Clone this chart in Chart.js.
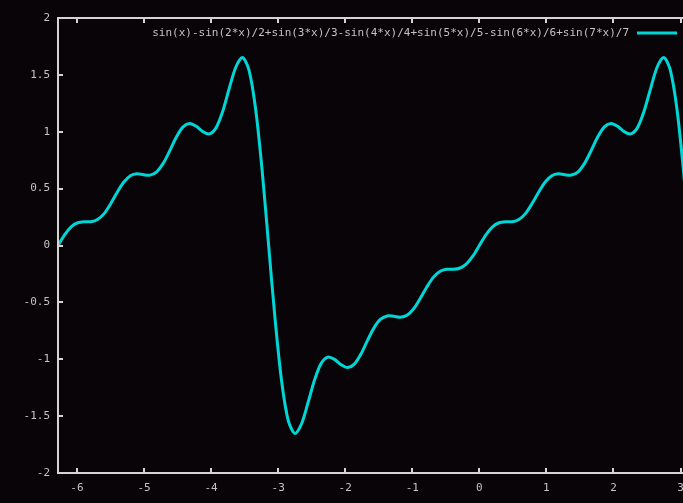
<!DOCTYPE html>
<html>
<head>
<meta charset="utf-8">
<script src="https://cdn.jsdelivr.net/npm/chart.js@4/dist/chart.umd.min.js"></script>
<style>
  html, body { margin: 0; padding: 0; background: #080407; overflow: hidden; }
  #wrap { width: 700px; height: 503px; }
</style>
</head>
<body>
<div id="wrap"><canvas id="plot" width="700" height="503"></canvas></div>
<script>
const seriesLabel = 'sin(x)-sin(2*x)/2+sin(3*x)/3-sin(4*x)/4+sin(5*x)/5-sin(6*x)/6+sin(7*x)/7';

const xValues = [
  -6.283, -6.185, -6.087, -5.989, -5.890, -5.792, -5.694, -5.596, -5.498, -5.400,
  -5.301, -5.203, -5.105, -5.007, -4.909, -4.811, -4.712, -4.614, -4.516, -4.418,
  -4.320, -4.221, -4.123, -4.025, -3.927, -3.829, -3.731, -3.632, -3.534, -3.436,
  -3.338, -3.240, -3.142, -3.043, -2.945, -2.847, -2.749, -2.651, -2.553, -2.454,
  -2.356, -2.258, -2.160, -2.062, -1.963, -1.865, -1.767, -1.669, -1.571, -1.473,
  -1.374, -1.276, -1.178, -1.080, -0.982, -0.884, -0.785, -0.687, -0.589, -0.491,
  -0.393, -0.295, -0.196, -0.098, 0.000, 0.098, 0.196, 0.295, 0.393, 0.491,
  0.589, 0.687, 0.785, 0.884, 0.982, 1.080, 1.178, 1.276, 1.374, 1.473,
  1.571, 1.669, 1.767, 1.865, 1.963, 2.062, 2.160, 2.258, 2.356, 2.454,
  2.553, 2.651, 2.749, 2.847, 2.945, 3.043, 3.142
];

const yValues = [
  0.000, 0.094, 0.164, 0.200, 0.209, 0.209, 0.228, 0.280, 0.367, 0.468,
  0.558, 0.614, 0.630, 0.622, 0.619, 0.648, 0.724, 0.836, 0.956, 1.043,
  1.073, 1.048, 1.001, 0.981, 1.034, 1.176, 1.378, 1.567, 1.652, 1.545,
  1.209, 0.666, 0.000, -0.666, -1.209, -1.545, -1.652, -1.567, -1.378, -1.176,
  -1.034, -0.981, -1.001, -1.048, -1.073, -1.043, -0.956, -0.836, -0.724, -0.648,
  -0.619, -0.622, -0.630, -0.614, -0.558, -0.468, -0.367, -0.280, -0.228, -0.209,
  -0.209, -0.200, -0.164, -0.094, 0.000, 0.094, 0.164, 0.200, 0.209, 0.209,
  0.228, 0.280, 0.367, 0.468, 0.558, 0.614, 0.630, 0.622, 0.619, 0.648,
  0.724, 0.836, 0.956, 1.043, 1.073, 1.048, 1.001, 0.981, 1.034, 1.176,
  1.378, 1.567, 1.652, 1.545, 1.209, 0.666, 0.000
];

const xTicks = [-6, -5, -4, -3, -2, -1, 0, 1, 2, 3];
const yTicks = [-2, -1.5, -1, -0.5, 0, 0.5, 1, 1.5, 2];

const lineColor = '#00d6d6';
const frameColor = '#d4d4d4';
const textColor = '#c4c4c4';
const monoFont = '"DejaVu Sans Mono", "Liberation Mono", monospace';

// gnuplot style border with inward ticks, plus the key in the top right
const gnuFrame = {
  id: 'gnuFrame',
  afterDatasetsDraw(chart) {
    const { ctx, chartArea: { left, top, right, bottom }, scales: { x, y } } = chart;
    ctx.save();
    ctx.strokeStyle = frameColor;
    ctx.lineWidth = 2;
    ctx.strokeRect(left, top, right - left, bottom - top);
    ctx.beginPath();
    xTicks.forEach(v => {
      const px = Math.round(x.getPixelForValue(v));
      ctx.moveTo(px, bottom); ctx.lineTo(px, bottom - 5);
      ctx.moveTo(px, top); ctx.lineTo(px, top + 5);
    });
    yTicks.forEach(v => {
      const py = Math.round(y.getPixelForValue(v));
      ctx.moveTo(left, py); ctx.lineTo(left + 5, py);
      ctx.moveTo(right, py); ctx.lineTo(right - 5, py);
    });
    ctx.stroke();

    // key
    const keyY = top + 15;
    const sampleEnd = right - 13;
    const sampleStart = sampleEnd - 40;
    ctx.font = '11px ' + monoFont;
    ctx.fillStyle = textColor;
    ctx.textAlign = 'right';
    ctx.textBaseline = 'middle';
    ctx.fillText(chart.data.datasets[0].label, sampleStart - 8, keyY);
    ctx.strokeStyle = lineColor;
    ctx.lineWidth = 3;
    ctx.beginPath();
    ctx.moveTo(sampleStart, keyY);
    ctx.lineTo(sampleEnd, keyY);
    ctx.stroke();
    ctx.restore();
  }
};

const bgPlugin = {
  id: 'bg',
  beforeDraw(chart) {
    const { ctx, width, height } = chart;
    ctx.save();
    ctx.fillStyle = '#080407';
    ctx.fillRect(0, 0, width, height);
    ctx.restore();
  }
};

const chart = new Chart(document.getElementById('plot'), {
  type: 'line',
  plugins: [bgPlugin, gnuFrame],
  data: {
    datasets: [{
      label: seriesLabel,
      data: xValues.map((x, i) => ({ x: x, y: yValues[i] })),
      borderColor: lineColor,
      borderWidth: 3,
      pointRadius: 0,
      tension: 0.3,
      fill: false
    }]
  },
  options: {
    responsive: false,
    animation: false,
    layout: {
      padding: { top: 18, right: 10, left: 0, bottom: 0 }
    },
    scales: {
      x: {
        type: 'linear',
        min: -6.2832,
        max: 3.1416,
        border: { display: false },
        grid: { display: false, drawTicks: false },
        afterBuildTicks: (axis) => { axis.ticks = xTicks.map(v => ({ value: v })); },
        afterFit: (axis) => { axis.height = 30; },
        ticks: {
          padding: 9,
          maxRotation: 0,
          color: textColor,
          font: { family: monoFont, size: 11 },
          callback: (v) => String(v)
        }
      },
      y: {
        type: 'linear',
        min: -2,
        max: 2,
        border: { display: false },
        grid: { display: false, drawTicks: false },
        afterBuildTicks: (axis) => { axis.ticks = yTicks.map(v => ({ value: v })); },
        afterFit: (axis) => { axis.width = 58; },
        ticks: {
          padding: 8,
          color: textColor,
          font: { family: monoFont, size: 11 },
          callback: (v) => String(v)
        }
      }
    },
    plugins: {
      legend: { display: false },
      tooltip: { enabled: false }
    }
  }
});
</script>
</body>
</html>
